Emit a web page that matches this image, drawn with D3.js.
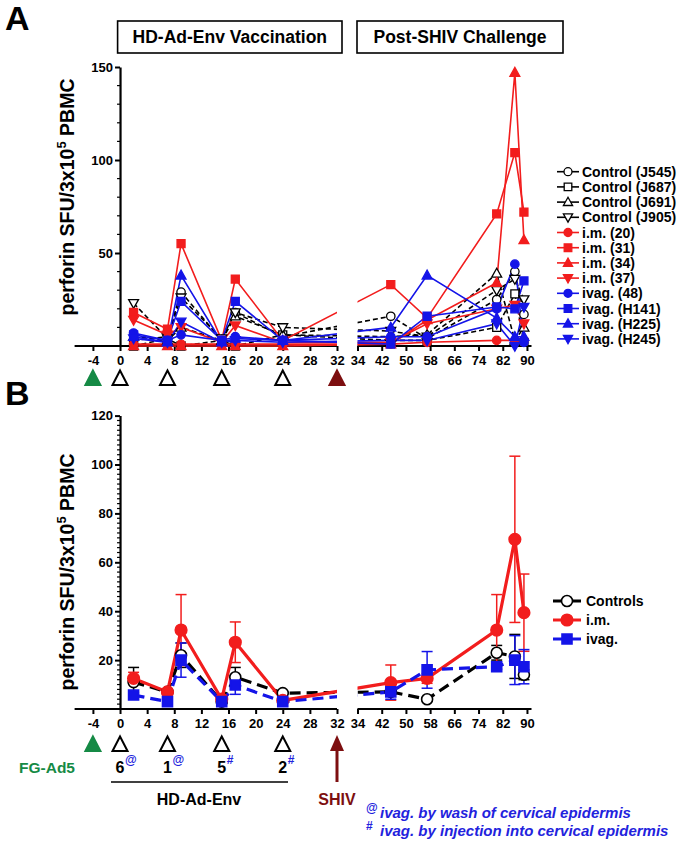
<!DOCTYPE html>
<html><head><meta charset="utf-8">
<script src="https://cdn.jsdelivr.net/npm/d3@7"></script>
<style>
body{margin:0;background:#fff}
svg{display:block}
text{font-family:"Liberation Sans",Arial,Helvetica,sans-serif;font-weight:bold}
</style>
</head><body>
<svg id="c" width="683" height="844"></svg>
<script>
// ---------------- DATA ----------------
const weeks = [2, 7, 9, 15, 17, 24, 45, 57, 80, 86, 89];
const xTicksLeft = [-4, 0, 4, 8, 12, 16, 20, 24, 28, 32];
const xTicksRight = [34, 42, 50, 58, 66, 74, 82, 90];
const yTicksA = [50, 100, 150];
const yTicksB = [20, 40, 60, 80, 100, 120];
const primeWeek = -4;
const vaccWeeks = [0, 7, 15, 24];
const challengeWeek = 32;
const vaccDoses = ["6", "1", "5", "2"];
const vaccMarks = ["@", "@", "#", "#"];

// Panel A: individual animals
const ctlJ545 = [3, 5, 29, 3, 18, 5, 16, 4, 25, 40, 17];
const ctlJ687 = [0, 4, 0, 3, 0, 6, 3, 3, 10, 28, 2];
const ctlJ691 = [5, 3, 10, 3, 16, 6, 5, 6, 39, 3, 10];
const ctlJ905 = [23, 4, 26, 4, 18, 10, 8, 5, 30, 36, 25];
const im20 = [1, 1, 1, 1, 1, 1, 1, 2, 3, 3, 3];
const im31 = [18, 9, 55, 3, 36, 3, 33, 15, 71, 104, 72];
const im34 = [0, 0, 0, 0, 0, 0, 1, 14, 34, 147, 57];
const im37 = [14, 6, 10, 2, 11, 2, 2, 12, 20, 22, 12];
const iv48 = [7, 3, 6, 3, 5, 3, 5, 5, 20, 44, 2];
const ivH141 = [6, 3, 24, 3, 24, 3, 1, 16, 21, 20, 35];
const ivH225 = [5, 2, 38, 2, 4, 3, 10, 38, 15, 5, 5];
const ivH245 = [4, 2, 13, 2, 3, 2, 3, 3, 12, 0, 21];

// Panel B: group mean and SEM
const ctlMean = [11, 7, 22, 3, 13, 6.5, 7, 4, 23, 21.5, 14];
const ctlSem  = [6, 1, 5, 0.5, 4, 0.5, 1, 0.5, 3, 9, 2];
const imMean  = [12.5, 7, 32.3, 4, 27.3, 3.5, 10.8, 12.5, 32.3, 69.4, 39.4];
const imSem   = [2.5, 1, 14.5, 0.5, 8.3, 0.5, 7.2, 2, 14.5, 34, 15.8];
const ivMean  = [5.7, 3, 20, 3, 9.8, 3, 7, 16, 17.3, 20, 17.3];
const ivSem   = [1, 0.5, 7, 0.5, 3.8, 0.5, 3, 7.5, 1, 10, 7];

// ---------------- STYLE ----------------
const RED = "#f21d1d", BLUE = "#1414e8", BLK = "#000", GREEN = "#158a45", DRED = "#7d0f10", NOTE = "#2222dd";

const seriesA = [
  {label: "Control (J545)", values: ctlJ545, shape: "circle", color: BLK, fill: "#fff", dash: "5,3"},
  {label: "Control (J687)", values: ctlJ687, shape: "square", color: BLK, fill: "#fff", dash: "5,3"},
  {label: "Control (J691)", values: ctlJ691, shape: "tri", color: BLK, fill: "#fff", dash: "5,3"},
  {label: "Control (J905)", values: ctlJ905, shape: "down", color: BLK, fill: "#fff", dash: "5,3"},
  {label: "i.m. (20)", values: im20, shape: "circle", color: RED, fill: RED, dash: null},
  {label: "i.m. (31)", values: im31, shape: "square", color: RED, fill: RED, dash: null},
  {label: "i.m. (34)", values: im34, shape: "tri", color: RED, fill: RED, dash: null},
  {label: "i.m. (37)", values: im37, shape: "down", color: RED, fill: RED, dash: null},
  {label: "ivag. (48)", values: iv48, shape: "circle", color: BLUE, fill: BLUE, dash: null},
  {label: "ivag. (H141)", values: ivH141, shape: "square", color: BLUE, fill: BLUE, dash: null},
  {label: "ivag. (H225)", values: ivH225, shape: "tri", color: BLUE, fill: BLUE, dash: null},
  {label: "ivag. (H245)", values: ivH245, shape: "down", color: BLUE, fill: BLUE, dash: null}
];
const seriesB = [
  {label: "Controls", mean: ctlMean, sem: ctlSem, shape: "circle", color: BLK, fill: "#fff", dash: "11,6", s: 5.5},
  {label: "i.m.", mean: imMean, sem: imSem, shape: "circle", color: RED, fill: RED, dash: null, s: 5.8},
  {label: "ivag.", mean: ivMean, sem: ivSem, shape: "square", color: BLUE, fill: BLUE, dash: "11,6", s: 5}
];

function shapePath(shape, s) {
  if (shape === "square") return `M${-s},${-s}H${s}V${s}H${-s}Z`;
  if (shape === "tri") return `M0,${-s*1.2}L${s*1.15},${s*0.85}L${-s*1.15},${s*0.85}Z`;
  if (shape === "down") return `M0,${s*1.2}L${s*1.15},${-s*0.85}L${-s*1.15},${-s*0.85}Z`;
  return `M${s},0A${s},${s} 0 1,1 ${-s},0A${s},${s} 0 1,1 ${s},0Z`;
}

const svg = d3.select("#c");
const x = d3.scaleLinear().domain([-6.7, 32, 34, 91.5]).range([74.6, 337, 357.5, 531.5]);
const yA = d3.scaleLinear().domain([0, 150]).range([346, 67]);
const yB = d3.scaleLinear().domain([0, 120]).range([709, 415.6]);

const defs = svg.append("defs");
function makeClip(id, top, bottom) {
  const cp = defs.append("clipPath").attr("id", id);
  cp.append("rect").attr("x", x(-6.7)).attr("y", top).attr("width", x(32) - x(-6.7)).attr("height", bottom - top);
  cp.append("rect").attr("x", x(34)).attr("y", top).attr("width", x(91.5) - x(34)).attr("height", bottom - top);
}
makeClip("clipA", 40, 360);
makeClip("clipB", 400, 720);

function drawAxes(y, yTicks, minorStep, yMax) {
  const y0 = y(0);
  const g = svg.append("g");
  const ax = g.append("g").attr("transform", `translate(0,${y0})`)
    .call(d3.axisBottom(x).tickValues(xTicksLeft.concat(xTicksRight)).tickFormat(d => String(d)).tickSize(5).tickPadding(5));
  ax.select(".domain").remove();
  ax.selectAll(".tick line").attr("stroke", BLK).attr("stroke-width", 2);
  ax.selectAll(".tick text").attr("font-size", 13).attr("fill", BLK).attr("font-family", null);
  [[-6.7, 32], [34, 91.5]].forEach(([a, b]) => {
    g.append("line").attr("x1", x(a)).attr("x2", x(b)).attr("y1", y0).attr("y2", y0)
      .attr("stroke", BLK).attr("stroke-width", 2.2);
  });
  const ay = g.append("g").attr("transform", `translate(${x(0)},0)`)
    .call(d3.axisLeft(y).tickValues(yTicks).tickSize(5).tickPadding(2).tickSizeOuter(0));
  ay.select(".domain").attr("stroke-width", 2.2);
  ay.selectAll(".tick line").attr("stroke-width", 2);
  ay.selectAll(".tick text").attr("font-size", 13).attr("fill", BLK).attr("font-family", null);
  const minors = d3.range(0, yMax + 0.001, minorStep).filter(v => !yTicks.includes(v) && v > 0);
  g.selectAll(".minor").data(minors).join("line")
    .attr("x1", x(0) - 3).attr("x2", x(0)).attr("y1", d => y(d)).attr("y2", d => y(d))
    .attr("stroke", BLK).attr("stroke-width", 1.2);
}

function yLabel(cx, cy) {
  const t = svg.append("text").attr("transform", `translate(${cx},${cy}) rotate(-90)`)
    .attr("text-anchor", "middle").attr("font-size", 19.5).attr("fill", BLK);
  t.append("tspan").text("perforin SFU/3x10");
  t.append("tspan").attr("font-size", 13).attr("dy", -8).text("5");
  t.append("tspan").attr("dy", 8).text(" PBMC");
}

function tri(g, cx, cy, fill, stroke) {
  g.append("path").attr("d", `M${cx},${cy-7.5}L${cx+7.5},${cy+7}L${cx-7.5},${cy+7}Z`)
    .attr("fill", fill).attr("stroke", stroke).attr("stroke-width", 2).attr("stroke-linejoin", "miter");
}

// ---------------- PANEL A ----------------
svg.append("text").attr("x", 5).attr("y", 30).attr("font-size", 34).text("A");
[["HD-Ad-Env Vaccination", 117.6, 342], ["Post-SHIV Challenge", 357, 563]].forEach(([t, a, b]) => {
  svg.append("rect").attr("x", a).attr("y", 21).attr("width", b - a).attr("height", 32)
    .attr("fill", "none").attr("stroke", BLK).attr("stroke-width", 1.6);
  svg.append("text").attr("x", (a + b) / 2).attr("y", 43).attr("text-anchor", "middle").attr("font-size", 17.5).text(t);
});
drawAxes(yA, yTicksA, 10, 150);
yLabel(74, 197);

const lineA = d3.line().x(d => x(d[0])).y(d => yA(d[1]));
const gLinesA = svg.append("g").attr("clip-path", "url(#clipA)");
gLinesA.selectAll("path").data(seriesA).join("path")
  .attr("d", s => lineA(s.values.map((v, i) => [weeks[i], v])))
  .attr("fill", "none").attr("stroke", s => s.color).attr("stroke-width", 1.6)
  .attr("stroke-dasharray", s => s.dash);
seriesA.forEach(s => {
  svg.append("g").selectAll("path").data(s.values).join("path")
    .attr("transform", (v, i) => `translate(${x(weeks[i])},${yA(v)})`)
    .attr("d", shapePath(s.shape, s.shape === "circle" ? 4.2 : (s.shape === "square" ? 4 : 4.3)))
    .attr("fill", s.fill).attr("stroke", s.color).attr("stroke-width", 1.3);
});

// schedule triangles A
const gTA = svg.append("g");
tri(gTA, x(primeWeek), 378, GREEN, GREEN);
vaccWeeks.forEach(w => tri(gTA, x(w), 378, "#fff", BLK));
tri(gTA, x(challengeWeek), 378, DRED, DRED);

// legend A
seriesA.forEach((s, i) => {
  const ly = 171.7 + i * 15.2;
  svg.append("line").attr("x1", 557).attr("x2", 579).attr("y1", ly).attr("y2", ly)
    .attr("stroke", s.color).attr("stroke-width", 1.6);
  svg.append("path").attr("transform", `translate(568,${ly})`)
    .attr("d", shapePath(s.shape, s.shape === "circle" ? 4 : (s.shape === "square" ? 3.8 : 4)))
    .attr("fill", s.fill).attr("stroke", s.color).attr("stroke-width", 1.3);
  svg.append("text").attr("x", 582).attr("y", ly).attr("dy", "0.36em").attr("font-size", 14).text(s.label);
});

// ---------------- PANEL B ----------------
svg.append("text").attr("x", 5).attr("y", 405).attr("font-size", 34).text("B");
drawAxes(yB, yTicksB, 2, 120);
yLabel(74, 572);

const gErr = svg.append("g");
seriesB.forEach(s => {
  s.mean.forEach((m, i) => {
    const cx = x(weeks[i]);
    const lo = yB(m - s.sem[i]), hi = yB(m + s.sem[i]);
    gErr.append("line").attr("x1", cx).attr("x2", cx).attr("y1", lo).attr("y2", hi)
      .attr("stroke", s.color).attr("stroke-width", 1.5);
    [lo, hi].forEach(yy => gErr.append("line").attr("x1", cx - 5.5).attr("x2", cx + 5.5)
      .attr("y1", yy).attr("y2", yy).attr("stroke", s.color).attr("stroke-width", 1.5));
  });
});
const lineB = d3.line().x(d => x(d[0])).y(d => yB(d[1]));
const gLinesB = svg.append("g").attr("clip-path", "url(#clipB)");
gLinesB.selectAll("path").data(seriesB).join("path")
  .attr("d", s => lineB(s.mean.map((v, i) => [weeks[i], v])))
  .attr("fill", "none").attr("stroke", s => s.color).attr("stroke-width", 3.2)
  .attr("stroke-dasharray", s => s.dash);
seriesB.forEach(s => {
  svg.append("g").selectAll("path").data(s.mean).join("path")
    .attr("transform", (v, i) => `translate(${x(weeks[i])},${yB(v)})`)
    .attr("d", shapePath(s.shape, s.s))
    .attr("fill", s.fill).attr("stroke", s.color).attr("stroke-width", 1.6);
});

// legend B
seriesB.forEach((s, i) => {
  const ly = 601 + i * 19;
  svg.append("line").attr("x1", 553).attr("x2", 581).attr("y1", ly).attr("y2", ly)
    .attr("stroke", s.color).attr("stroke-width", 3);
  svg.append("path").attr("transform", `translate(567,${ly})`)
    .attr("d", shapePath(s.shape, s.s))
    .attr("fill", s.fill).attr("stroke", s.color).attr("stroke-width", 1.6);
  svg.append("text").attr("x", 586).attr("y", ly).attr("dy", "0.36em").attr("font-size", 14).text(s.label);
});

// schedule B
const gTB = svg.append("g");
tri(gTB, x(primeWeek), 744, GREEN, GREEN);
vaccWeeks.forEach(w => tri(gTB, x(w), 744, "#fff", BLK));
svg.append("text").attr("x", 47).attr("y", 773).attr("text-anchor", "middle").attr("font-size", 15.5).attr("fill", GREEN).text("FG-Ad5");
vaccWeeks.forEach((w, i) => {
  svg.append("text").attr("x", x(w)).attr("y", 773).attr("text-anchor", "middle").attr("font-size", 16).text(vaccDoses[i]);
  svg.append("text").attr("x", x(w) + 5).attr("y", 764).attr("font-size", 12).attr("fill", NOTE).text(vaccMarks[i]);
});
svg.append("line").attr("x1", 111).attr("x2", 288).attr("y1", 782).attr("y2", 782).attr("stroke", BLK).attr("stroke-width", 1.5);
svg.append("text").attr("x", 199).attr("y", 805).attr("text-anchor", "middle").attr("font-size", 16).text("HD-Ad-Env");
const ax32 = x(challengeWeek);
svg.append("line").attr("x1", ax32).attr("x2", ax32).attr("y1", 748).attr("y2", 782).attr("stroke", DRED).attr("stroke-width", 3);
svg.append("path").attr("d", `M${ax32},${735}L${ax32+7},${751}L${ax32-7},${751}Z`).attr("fill", DRED);
svg.append("text").attr("x", ax32).attr("y", 805).attr("text-anchor", "middle").attr("font-size", 16).attr("fill", DRED).text("SHIV");
[["@", "ivag. by wash of cervical epidermis", 818], ["#", "ivag. by injection into cervical epidermis", 836]].forEach(([m, t, yy]) => {
  svg.append("text").attr("x", 366).attr("y", yy - 6).attr("font-size", 12).attr("fill", NOTE).text(m);
  svg.append("text").attr("x", 380).attr("y", yy).attr("font-size", 15).attr("font-style", "italic").attr("fill", NOTE).text(t);
});
</script>
</body></html>
